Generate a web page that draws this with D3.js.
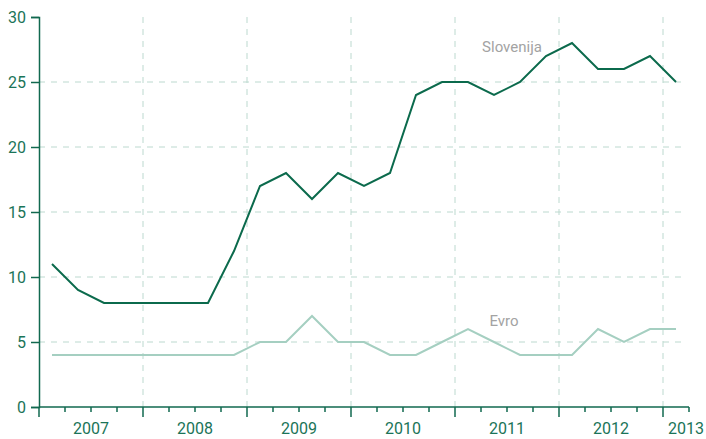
<!DOCTYPE html>
<html>
<head>
<meta charset="utf-8">
<script src="https://cdn.jsdelivr.net/npm/d3@7"></script>
<style>
  body { margin: 0; background: #fff; }
  svg { display: block; font-family: "Roboto", sans-serif; }
</style>
</head>
<body>
<svg id="chart"></svg>
<script>
const quarters = [
  '2007 Q1', '2007 Q2', '2007 Q3', '2007 Q4',
  '2008 Q1', '2008 Q2', '2008 Q3', '2008 Q4',
  '2009 Q1', '2009 Q2', '2009 Q3', '2009 Q4',
  '2010 Q1', '2010 Q2', '2010 Q3', '2010 Q4',
  '2011 Q1', '2011 Q2', '2011 Q3', '2011 Q4',
  '2012 Q1', '2012 Q2', '2012 Q3', '2012 Q4',
  '2013 Q1'
];
const years = ['2007', '2008', '2009', '2010', '2011', '2012', '2013'];
const slovenija = [11, 9, 8, 8, 8, 8, 8, 12, 17, 18, 16, 18, 17, 18, 24, 25, 25, 24, 25, 27, 28, 26, 26, 27, 25];
const evro = [4, 4, 4, 4, 4, 4, 4, 4, 5, 5, 7, 5, 5, 4, 4, 5, 6, 5, 4, 4, 4, 6, 5, 6, 6];
const yTicks = [0, 5, 10, 15, 20, 25, 30];
const seriesLabels = [
  { name: 'Slovenija', quarter: '2011 Q3', value: 27.3, dx: -8 },
  { name: 'Evro', quarter: '2011 Q2', value: 6.2, dx: 10 }
];

const width = 706, height = 439;
const margin = { top: 17, right: 17, bottom: 32, left: 39 };

const svg = d3.select('#chart')
  .attr('width', width)
  .attr('height', height);

const x = d3.scaleBand()
  .domain(quarters)
  .range([margin.left, width - margin.right])
  .padding(0);

const y = d3.scaleLinear()
  .domain([0, 30])
  .range([height - margin.bottom, margin.top]);

const mid = q => x(q) + x.bandwidth() / 2;

const gridColor = '#bcd9cf';
const axisColor = '#11694f';
const tickTextColor = '#1b7458';

// horizontal grid
svg.append('g')
  .selectAll('line')
  .data(yTicks.filter(d => d > 0 && d < 30))
  .enter()
  .append('line')
  .attr('x1', margin.left)
  .attr('x2', x.range()[1] - 6)
  .attr('y1', d => y(d))
  .attr('y2', d => y(d))
  .attr('stroke', gridColor)
  .attr('stroke-width', 1)
  .attr('stroke-dasharray', '6,6');

// vertical grid at year boundaries
svg.append('g')
  .selectAll('line')
  .data(years.slice(1))
  .enter()
  .append('line')
  .attr('x1', d => x(d + ' Q1'))
  .attr('x2', d => x(d + ' Q1'))
  .attr('y1', y(30))
  .attr('y2', y(0))
  .attr('stroke', gridColor)
  .attr('stroke-width', 1)
  .attr('stroke-dasharray', '6,6');

// y axis
const yAxis = svg.append('g')
  .attr('transform', `translate(${margin.left},0)`)
  .call(d3.axisLeft(y).tickValues(yTicks).tickSize(8).tickPadding(5));
yAxis.select('.domain').attr('stroke', axisColor).attr('stroke-width', 1.5);
yAxis.selectAll('.tick line').attr('stroke', axisColor).attr('stroke-width', 1.5);
yAxis.selectAll('.tick text')
  .attr('fill', tickTextColor)
  .style('font-size', '16px')
  .style('font-family', '"Roboto", sans-serif');

// x axis: quarter ticks, longer at year starts
const boundaries = quarters.map(q => x(q)).concat([x.range()[1]]);
const xAxis = svg.append('g');
xAxis.append('line')
  .attr('x1', margin.left)
  .attr('x2', x.range()[1])
  .attr('y1', y(0))
  .attr('y2', y(0))
  .attr('stroke', axisColor)
  .attr('stroke-width', 1.5);
xAxis.selectAll('.qtick')
  .data(boundaries)
  .enter()
  .append('line')
  .attr('class', 'qtick')
  .attr('x1', d => d)
  .attr('x2', d => d)
  .attr('y1', y(0))
  .attr('y2', (d, i) => y(0) + ((i % 4 === 0 && i < quarters.length) ? 10 : 5))
  .attr('stroke', axisColor)
  .attr('stroke-width', 1.5);

xAxis.selectAll('.ylabel')
  .data(years)
  .enter()
  .append('text')
  .attr('class', 'ylabel')
  .attr('x', d => {
    const qs = quarters.filter(q => q.startsWith(d));
    const start = x(qs[0]);
    const end = x(qs[qs.length - 1]) + x.bandwidth();
    return qs.length === 4 ? (start + end) / 2 : end - 3;
  })
  .attr('y', y(0) + 27)
  .attr('text-anchor', 'middle')
  .attr('fill', tickTextColor)
  .style('font-size', '16px')
  .text(d => d);

// lines
const line = d3.line()
  .x((d, i) => mid(quarters[i]))
  .y(d => y(d));

svg.append('path')
  .datum(evro)
  .attr('fill', 'none')
  .attr('stroke', '#a5cfc1')
  .attr('stroke-width', 2)
  .attr('d', line);

svg.append('path')
  .datum(slovenija)
  .attr('fill', 'none')
  .attr('stroke', '#0b6a4c')
  .attr('stroke-width', 2)
  .attr('d', line);

// series labels
svg.selectAll('.slabel')
  .data(seriesLabels)
  .enter()
  .append('text')
  .attr('class', 'slabel')
  .attr('x', d => mid(d.quarter) + d.dx)
  .attr('y', d => y(d.value))
  .attr('text-anchor', 'middle')
  .attr('fill', '#a3a3a3')
  .style('font-size', '15px')
  .text(d => d.name);
</script>
</body>
</html>
